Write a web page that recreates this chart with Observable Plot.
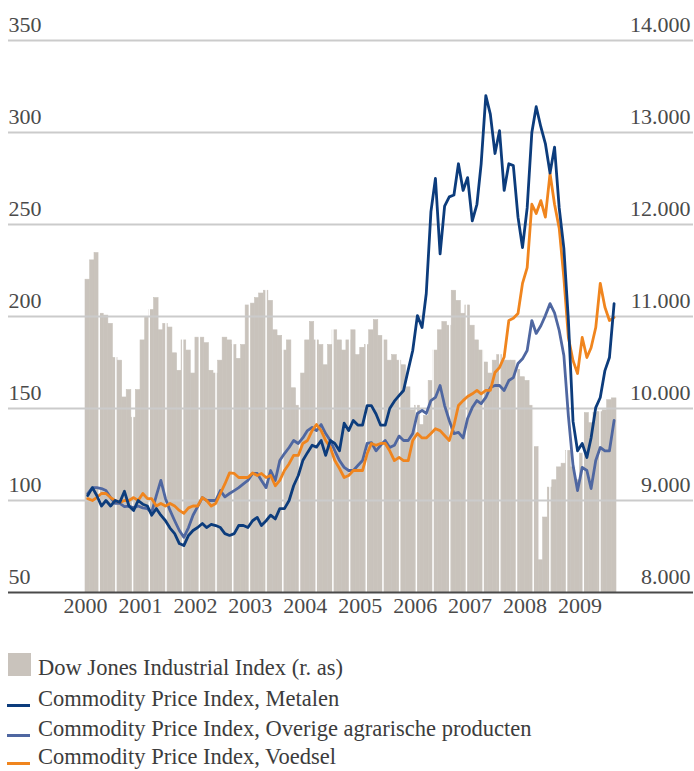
<!DOCTYPE html>
<html><head><meta charset="utf-8">
<script src="https://cdn.jsdelivr.net/npm/d3@7"></script>
<script src="https://cdn.jsdelivr.net/npm/@observablehq/plot@0.6"></script>
<style>
body{margin:0;background:#fff;font-family:"Liberation Serif",serif;color:#3c3c3c;}
#wrap{position:relative;width:694px;height:771px;overflow:hidden;}
#chart{position:absolute;left:0;top:0;}
.lg{position:absolute;left:38px;font-size:22.5px;line-height:22px;white-space:nowrap;color:#3c3c3c;}
.sw{position:absolute;left:8px;}
</style></head><body>
<div id="wrap"><div id="chart"></div><div id="legend"></div></div>
<script>
// Dow Jones Industrial Index (right axis), monthly, Jan 2000 – Aug 2009
const dowJones = [11400,11610,11690,11030,11010,10920,10550,10520,10120,10200,9900,10200,
10740,10990,11070,11200,10850,10920,10880,10600,10410,10740,10630,10380,
10770,10770,10710,10410,10380,10520,10770,10740,10690,10540,10690,11120,
11140,11200,11250,11280,11170,10850,10790,10630,10740,10220,10030,10380,
10740,10940,10740,10690,10470,10690,10850,10740,10630,10740,10850,10580,
10660,10690,10850,10960,10790,10740,10520,10580,10520,10470,10230,9980,
10030,9820,9920,10300,10630,10850,10940,10900,11280,11170,11030,11120,
10900,10740,10630,10500,10380,10520,10580,10520,10520,10520,10420,10340,
10300,10030,9580,8350,8815,9140,9220,9360,9400,9540,9360,9220,
9510,9950,9840,9950,9960,9980,10090,10110];
// Commodity Price Index, Metalen (left axis)
const metalen = [102.7,107,102.7,97,100,97,100,99,105,97,94.6,100,
98,97,92,95.6,92,89,85,82,76.6,75.5,81,83.7,
85.3,87.5,85.3,87,86.4,85.3,82,81,82,86.4,86.4,85.3,
89,90.8,86.4,89,92,90,95.6,95.6,100,108,113.6,121.7,
126,130,129,132.6,124.5,132.6,131,127,142,138,143.5,141,
141,151.6,151.6,147,141,141,150,154,157,159.8,171,181.5,
200.5,194,212.5,257,275,234,260,265,266,283,268.5,275.5,
252,261,283,320,310,288.6,301,268.5,283,282,254,237.5,
259,300,314,303,294,278,292,259,237,198,143,127,
131,123.4,134,150.5,156,170.6,177.7,207];
// Commodity Price Index, Overige agrarische producten (left axis)
const overige = [103.8,107,107,106.5,105.4,101.6,98.4,98.4,96.7,97,96,97,
96,95.6,93.5,102.7,110.9,101,94.6,89,83.7,80,85.3,92,
96.7,101.6,100,100,100,105.4,102,103.8,105.4,107,109,110.9,
114.7,114.7,110.9,107,116.3,110.9,121.7,125.5,128.8,132.6,131,134,
138,139.7,138,141.3,136.4,132.6,127,121.7,118,116.3,116.3,119,
121.7,131,131.5,127,130,132.6,128.8,130,135,132.6,132.6,136.4,
147.3,149,147.3,154.3,156,162.5,151.6,143.5,136.4,137,134,144.6,
150.5,154.3,152.7,156,161.4,162.5,162.5,159.8,165.2,166.8,174.5,177,
181.5,197.8,190.8,195,200.5,207,202,192.4,178.8,146,119,105.4,
118,116.3,106.5,121.7,128.8,127,127,143.5];
// Commodity Price Index, Voedsel (left axis)
const voedsel = [101,100,101.6,103.8,103.8,101.6,100,99,100,100,101.6,100,
103.8,101,101,97,98.4,97,98.4,97,94.6,93,96,97,
97,101.6,100,97,98.4,103.8,109,115,114.7,112.5,112.5,112.5,
115,113.6,114.7,112.5,113.6,108,110.9,116.3,120,124.5,124.5,131,
132.6,138,141.3,138,132.6,128.8,121.7,117.4,112.5,113.6,116.3,116.3,
116.3,125.5,131,130,131,131,127,121.7,123.4,121.7,121.7,132.6,
136.4,134,134,136.4,139,138,135.3,132.6,140.8,151.6,154.3,156.5,
158,159.8,158,159.8,159.8,169.6,172.3,178,197.8,199,201.6,218,
226.6,261,256,263,254,277.7,261,248,221,188.6,176,169,
188.6,177.7,183,194,218,205,197.8,199.5];

const leftTicks = [50,100,150,200,250,300,350];
const rightTicks = [8000,9000,10000,11000,12000,13000,14000];
const years = [2000,2001,2002,2003,2004,2005,2006,2007,2008,2009];
const separatorStart = new Date(Date.UTC(2000,3,1));
const separatorStepDays = 111;

const colors = {bar:"#c9c3bc", metalen:"#0c3c7c", overige:"#4f67a1", voedsel:"#f0851e", grid:"#cbcbcb", axis:"#4a4a4a", text:"#4a4a4a"};

const start = new Date(Date.UTC(2000,0,1));
const end = new Date(Date.UTC(2009,8,1));
const toLeft = d => 50 + (d - 8000) / 20;

const rows = dowJones.map((d, i) => {
  const m0 = d3.utcMonth.offset(start, i);
  return {x1: m0, x2: d3.utcMonth.offset(start, i + 1), mid: d3.utcDay.offset(m0, 15),
    dow: toLeft(d), metalen: metalen[i], overige: overige[i], voedsel: voedsel[i]};
});
const seps = [];
for (let t = separatorStart; t < end; t = d3.utcDay.offset(t, separatorStepDays)) seps.push(t);
const fmtDow = d => d3.format(",")(d).replace(/,/g, ".");

const W = 694, H = 630;
const chart = Plot.plot({
  width: W, height: H,
  marginTop: 40, marginBottom: H - 592, marginLeft: 8, marginRight: 1,
  style: {fontFamily: '"Liberation Serif", serif', fontSize: "22px", background: "transparent"},
  x: {type: "utc", domain: [start, end], range: [85, 616], axis: null},
  y: {domain: [50, 350], range: [592, 40], axis: null},
  marks: [
    Plot.rect(rows, {x1: "x1", x2: "x2", y1: 50, y2: "dow", fill: colors.bar, stroke: colors.bar, strokeWidth: 0.6}),
    Plot.ruleX(seps, {x: d => d, y1: 50, y2: 350, stroke: "#fff", strokeWidth: 1.5}),
    Plot.ruleY(leftTicks.filter(v => v > 50), {y: d => d, stroke: colors.grid, strokeWidth: 2}),
    Plot.ruleY([50], {y: d => d, stroke: colors.axis, strokeWidth: 2}),
    Plot.line(rows, {x: "mid", y: "overige", stroke: colors.overige, strokeWidth: 2.8, strokeLinejoin: "round"}),
    Plot.line(rows, {x: "mid", y: "voedsel", stroke: colors.voedsel, strokeWidth: 2.8, strokeLinejoin: "round"}),
    Plot.line(rows, {x: "mid", y: "metalen", stroke: colors.metalen, strokeWidth: 2.8, strokeLinejoin: "round"}),
    Plot.text(leftTicks, {y: d => d, frameAnchor: "left", textAnchor: "start", dy: -16, text: d => String(d), fill: colors.text, fontSize: 22}),
    Plot.text(rightTicks, {y: d => toLeft(d), frameAnchor: "right", textAnchor: "end", dx: -3, dy: -16, text: fmtDow, fill: colors.text, fontSize: 22}),
    Plot.text(years, {x: d => new Date(Date.UTC(d,0,1)), frameAnchor: "bottom", dy: 20, text: d => String(d), fill: colors.text, fontSize: 22})
  ]
});
document.getElementById("chart").appendChild(chart);

// legend: baseline positions of each row
const legendItems = [
  {label: "Dow Jones Industrial Index (r. as)", color: colors.bar, kind: "box", base: 676},
  {label: "Commodity Price Index, Metalen", color: colors.metalen, kind: "line", base: 707},
  {label: "Commodity Price Index, Overige agrarische producten", color: colors.overige, kind: "line", base: 737},
  {label: "Commodity Price Index, Voedsel", color: colors.voedsel, kind: "line", base: 765}
];
const lg = document.getElementById("legend");
for (const it of legendItems) {
  const sw = document.createElement("div");
  sw.className = "sw";
  if (it.kind === "box") { sw.style.cssText = `top:${it.base-23}px;width:23px;height:23px;background:${it.color}`; }
  else { sw.style.cssText = `top:${it.base-3}px;left:7px;width:23px;height:2.5px;background:${it.color}`; }
  lg.appendChild(sw);
  const t = document.createElement("div");
  t.className = "lg";
  t.style.top = (it.base - 18.6) + "px";
  t.textContent = it.label;
  lg.appendChild(t);
}
</script>
</body></html>
